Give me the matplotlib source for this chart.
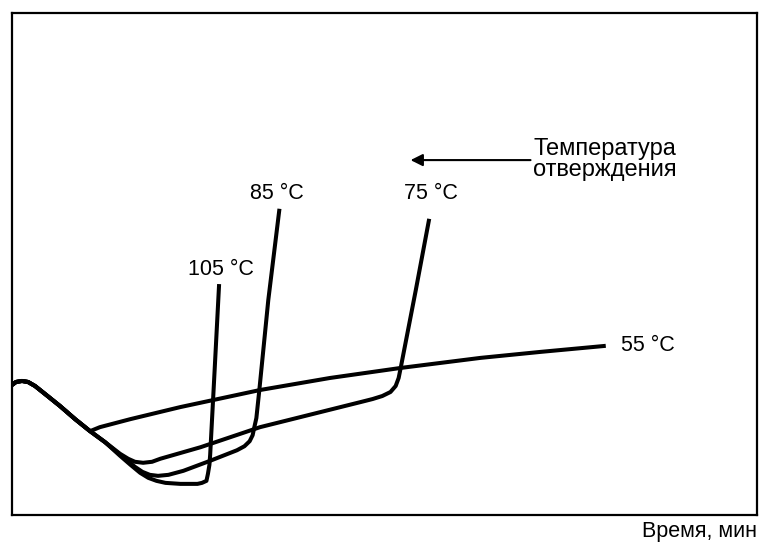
import matplotlib
matplotlib.use("Agg")
from matplotlib import pyplot as plt

plt.rcParams['font.family'] = ['Liberation Sans', 'DejaVu Sans']

# shared initial part of all curves (time, value), arbitrary units
start_t = [0.0, 0.54, 1.34, 2.15, 3.09, 4.44, 6.45, 8.47, 10.48]
start_v = [25.9, 26.5, 26.7, 26.5, 25.7, 24.1, 21.7, 19.1, 16.7]

t55 = [11.8, 15.9, 22.6, 33.3, 42.7, 52.2, 62.9, 71.0, 79.7]
v55 = [17.5, 19.1, 21.5, 24.9, 27.3, 29.3, 31.3, 32.5, 33.7]

t75 = [12.5, 14.5, 15.6, 16.5, 17.6, 18.8, 19.9, 25.3, 33.3, 41.4, 46.8,
       48.4, 49.7, 50.8, 51.5, 51.9, 52.2, 54.2, 56.0]
v75 = [14.5, 12.2, 11.2, 10.6, 10.4, 10.6, 11.2, 13.5, 17.5, 20.5, 22.5,
       23.1, 23.7, 24.5, 25.7, 27.3, 29.5, 44.8, 59.0]

t85 = [12.5, 14.5, 16.5, 17.5, 18.5, 19.6, 21.0, 23.0, 26.6, 30.2, 31.2,
       31.9, 32.3, 32.5, 32.8, 33.2, 34.4, 35.9]
v85 = [14.5, 12.0, 9.6, 8.6, 8.0, 7.8, 8.0, 8.8, 10.8, 12.9, 13.7,
       14.7, 15.9, 17.3, 19.3, 24.9, 42.8, 61.0]

t105 = [12.5, 14.5, 15.9, 17.2, 18.3, 19.4, 20.6, 22.6, 24.9, 25.5, 26.1,
        26.3, 26.5, 26.6, 27.2, 27.8]
v105 = [14.5, 11.8, 10.0, 8.4, 7.4, 6.8, 6.4, 6.2, 6.2, 6.4, 6.8,
        8.2, 10.0, 12.0, 28.9, 46.0]

curves = [("55 °C", t55, v55), ("75 °C", t75, v75),
          ("85 °C", t85, v85), ("105 °C", t105, v105)]

fig = plt.figure(figsize=(7.63, 5.46), dpi=100)
ax = fig.add_axes([12 / 763, 31 / 546, 745 / 763, 502 / 546])

for name, t, v in curves:
    ax.plot(start_t + t, start_v + v, color='black', lw=2.9,
            solid_joinstyle='round', solid_capstyle='butt')

ax.set_xlim(0, 100)
ax.set_ylim(0, 100)
ax.set_xticks([])
ax.set_yticks([])
for s in ax.spines.values():
    s.set_linewidth(1.6)

fs = 15.5
ax.text(28.0, 49.0, "105 °C", ha='center', va='center', fontsize=fs)
ax.text(35.5, 64.1, "85 °C", ha='center', va='center', fontsize=fs)
ax.text(56.2, 64.1, "75 °C", ha='center', va='center', fontsize=fs)
ax.text(85.3, 33.7, "55 °C", ha='center', va='center', fontsize=fs)

ax.annotate("", xy=(53.5, 70.7), xytext=(69.6, 70.7),
            arrowprops=dict(arrowstyle='-|>', color='black', lw=1.5,
                            mutation_scale=18, shrinkA=0, shrinkB=0))
ax.text(70.0, 70.9, "Температура\nотверждения", ha='left', va='center',
        fontsize=17, linespacing=0.95)

fig.text(757 / 763, 14 / 546, "Время, мин", ha='right', va='center', fontsize=fs)

fig.savefig("out.png", dpi=100)
